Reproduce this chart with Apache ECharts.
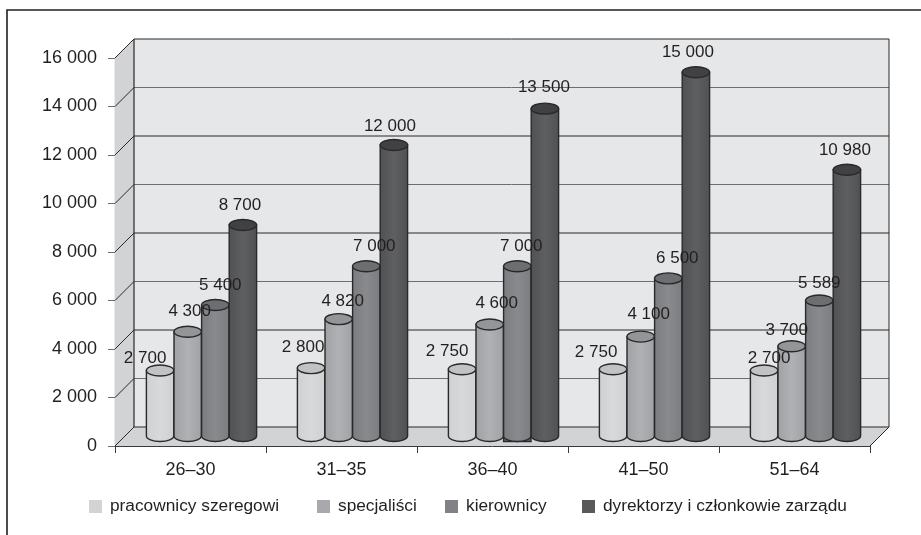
<!DOCTYPE html>
<html>
<head>
<meta charset="utf-8">
<style>html,body{margin:0;padding:0;background:#fff}#chart{width:921px;height:535px}</style>
<script src="https://cdn.jsdelivr.net/npm/echarts@6/dist/echarts.min.js"></script>
</head>
<body>
<div id="chart"></div>
<script>
// Average pay by age group and job level
const ageGroups = ['26–30', '31–35', '36–40', '41–50', '51–64'];
const staff = [2700, 2800, 2750, 2750, 2700];
const specialists = [4300, 4820, 4600, 4100, 3700];
const managers = [5400, 7000, 7000, 6500, 5589];
const directors = [8700, 12000, 13500, 15000, 10980];
const yTicks = [0, 2000, 4000, 6000, 8000, 10000, 12000, 14000, 16000];

const seriesNames = ['pracownicy szeregowi', 'specjaliści', 'kierownicy', 'dyrektorzy i członkowie zarządu'];
const seriesValues = [staff, specialists, managers, directors];

const bodyEdge = ['#cfd0d2', '#9fa1a4', '#7a7c7f', '#505153'];
const bodyMid = ['#d8d9db', '#afb1b4', '#888a8d', '#5e5f61'];
const topFace = ['#c0c2c4', '#939598', '#6d6e71', '#414042'];
const legendFill = ['#d1d3d4', '#a7a9ac', '#808285', '#58595b'];
const legendLeft = [89, 317, 445, 582];

// Hand placement of the value labels, so they stay readable around the neighbouring columns
const labelDx = [
  [-15, -8, -15, -17, 5],
  [2, 4, 7, 8, -5],
  [5, 8, 4, 9, 0],
  [-3, -4, -1, -8, -2]
];
const labelDy = [
  [-12, -21, -18, -17, -12],
  [-20, -18, -21, -22, -16],
  [-20, -20, -20, -20, -17],
  [-20, -19, -21, -20, -19]
];

const INK = '#2a2829';
const FONT = '"Liberation Sans", Arial, sans-serif';
const DEPTH = 19;        // how far the back wall sits behind the front plane
const BAR_W = 27.4;
const RY = 5.5;
const BASE_RISE = 10;    // cylinder base centre above the front axis line
const GROUP_SHIFT = 11;  // cylinders stand mid-depth on the floor, so they drift right

const fmt = v => String(v).replace(/\B(?=(\d{3})+$)/g, ' ');

function wallItem(params, api) {
  const cs = params.coordSys;
  const x0 = cs.x, x1 = cs.x + cs.width;
  const y0 = api.coord([0, 0])[1];
  const y1 = api.coord([0, 16000])[1];
  const children = [
    { type: 'polygon', shape: { points: [[x0 + DEPTH, y1 - DEPTH], [x1 + DEPTH, y1 - DEPTH], [x1 + DEPTH, y0 - DEPTH], [x0 + DEPTH, y0 - DEPTH]] },
      style: { fill: '#e6e7e8', stroke: 'none' } },
    { type: 'polygon', shape: { points: [[x0, y1], [x0 + DEPTH, y1 - DEPTH], [x0 + DEPTH, y0 - DEPTH], [x0, y0]] },
      style: { fill: '#d1d3d4', stroke: 'none' } },
    { type: 'polygon', shape: { points: [[x0, y0], [x0 + DEPTH, y0 - DEPTH], [x1 + DEPTH, y0 - DEPTH], [x1, y0]] },
      style: { fill: '#d1d3d4', stroke: 'none' } }
  ];
  yTicks.forEach((t, i) => {
    const y = api.coord([0, t])[1];
    const light = i % 2 === 1;
    children.push({ type: 'line', shape: { x1: x0, y1: y, x2: x0 + DEPTH, y2: y - DEPTH },
      style: { stroke: INK, lineWidth: 1 } });
    children.push({ type: 'line', shape: { x1: x0 + DEPTH, y1: y - DEPTH, x2: x1 + DEPTH, y2: y - DEPTH },
      style: { stroke: light ? '#6d6e71' : INK, lineWidth: 1 } });
  });
  children.push(
    { type: 'line', shape: { x1: x0 + DEPTH, y1: y1 - DEPTH, x2: x0 + DEPTH, y2: y0 - DEPTH }, style: { stroke: INK, lineWidth: 1.2 } },
    { type: 'line', shape: { x1: x1 + DEPTH, y1: y1 - DEPTH, x2: x1 + DEPTH, y2: y0 - DEPTH }, style: { stroke: INK, lineWidth: 1 } },
    { type: 'line', shape: { x1: x1, y1: y0, x2: x1 + DEPTH, y2: y0 - DEPTH }, style: { stroke: INK, lineWidth: 1 } }
  );
  return { type: 'group', silent: true, children };
}

function cylinderItem(seriesIdx) {
  return function (params, api) {
    const cat = api.value(0);
    const val = api.value(1);
    const base = api.coord([cat, 0]);
    const top = api.coord([cat, val]);
    const cx = base[0] + GROUP_SHIFT + (seriesIdx - 1.5) * (BAR_W + 0.2);
    const yb = base[1] - BASE_RISE;
    const yt = top[1] - BASE_RISE;
    const rx = BAR_W / 2;
    const gradient = new echarts.graphic.LinearGradient(0, 0, 1, 0, [
      { offset: 0, color: bodyEdge[seriesIdx] },
      { offset: 0.5, color: bodyMid[seriesIdx] },
      { offset: 1, color: bodyEdge[seriesIdx] }
    ]);
    const stroke = { stroke: INK, lineWidth: 1.4 };
    const path = `M${cx - rx} ${yt}L${cx - rx} ${yb}A${rx} ${RY} 0 0 0 ${cx + rx} ${yb}L${cx + rx} ${yt}Z`;
    const children = [];
    // The managers' column in the 36–40 group sits on a square footing
    if (cat === 2 && seriesIdx === 2) {
      children.push({ type: 'rect', shape: { x: cx - rx, y: yb, width: BAR_W, height: RY },
        style: Object.assign({ fill: '#6d6e71' }, stroke) });
    }
    children.push(
      { type: 'path', shape: { pathData: path, x: cx - rx, y: yt, width: BAR_W, height: yb - yt + RY, layout: 'cover' },
        style: Object.assign({ fill: gradient }, stroke) },
      { type: 'ellipse', shape: { cx, cy: yt, rx, ry: RY },
        style: Object.assign({ fill: topFace[seriesIdx] }, stroke) },
      { type: 'text', z2: 100, style: { text: fmt(val), x: cx + labelDx[seriesIdx][cat], y: yt + labelDy[seriesIdx][cat],
          fill: '#231f20', font: '17px ' + FONT, align: 'center', verticalAlign: 'middle' } }
    );
    return { type: 'group', children };
  };
}

const chart = echarts.init(document.getElementById('chart'), null, { renderer: 'canvas' });

chart.setOption({
  animation: false,
  backgroundColor: '#ffffff',
  textStyle: { fontFamily: FONT },
  grid: { left: 115, right: 51, top: 58, bottom: 89 },
  xAxis: {
    type: 'category',
    data: ageGroups,
    axisLine: { lineStyle: { color: '#3a3a3c', width: 1 } },
    axisTick: { show: true, length: 7, lineStyle: { color: '#3a3a3c' } },
    axisLabel: { color: '#231f20', fontSize: 18, margin: 15 }
  },
  yAxis: {
    type: 'value',
    min: 0,
    max: 16000,
    interval: 2000,
    splitLine: { show: false },
    axisLine: { show: true, lineStyle: { color: '#3a3a3c', width: 1.2 } },
    axisTick: { show: true, length: 7, lineStyle: { color: '#6d6e71' } },
    axisLabel: { color: '#231f20', fontSize: 18, margin: 18, formatter: fmt }
  },
  legend: seriesNames.map((name, i) => ({
    left: legendLeft[i],
    top: 498,
    padding: 0,
    itemWidth: 13,
    itemHeight: 13,
    icon: 'rect',
    textStyle: { color: '#231f20', fontSize: 17.3, padding: [0, 0, 0, 3] },
    data: [name]
  })),
  graphic: [{
    type: 'polyline',
    silent: true,
    z: -1,
    shape: { points: [[7, 545], [7, 10], [930, 10]] },
    style: { stroke: '#231f20', lineWidth: 1.6, fill: 'none' }
  }],
  series: [
    {
      name: 'walls',
      type: 'custom',
      z: 1,
      silent: true,
      renderItem: wallItem,
      data: [[0, 0]],
      clip: false
    }
  ].concat(seriesNames.map((name, s) => ({
    name,
    type: 'custom',
    z: 2,
    clip: false,
    itemStyle: { color: legendFill[s] },
    renderItem: cylinderItem(s),
    encode: { x: 0, y: 1 },
    data: seriesValues[s].map((v, c) => [c, v])
  })))
});
</script>
</body>
</html>
